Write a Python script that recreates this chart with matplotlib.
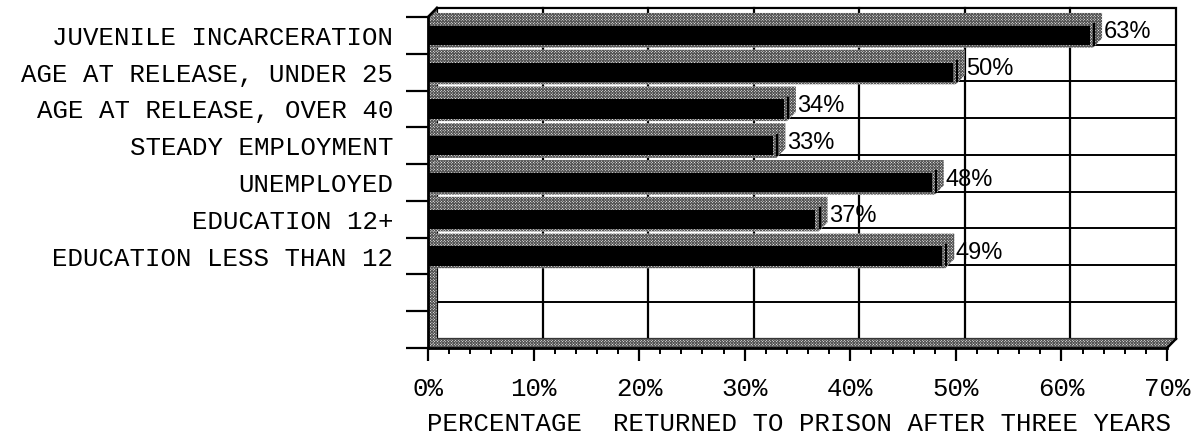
import matplotlib
matplotlib.use('Agg')
import matplotlib.pyplot as plt
from matplotlib.patches import Polygon, Rectangle

# data
categories = ['JUVENILE INCARCERATION',
              'AGE AT RELEASE, UNDER 25',
              'AGE AT RELEASE, OVER 40',
              'STEADY EMPLOYMENT',
              'UNEMPLOYED',
              'EDUCATION 12+',
              'EDUCATION LESS THAN 12']
values = [63, 50, 34, 33, 48, 37, 49]
empty_rows = 2
xticks = [0, 10, 20, 30, 40, 50, 60, 70]
xlabel = 'PERCENTAGE  RETURNED TO PRISON AFTER THREE YEARS'

plt.rcParams['hatch.color'] = '#555555'
plt.rcParams['hatch.linewidth'] = 0.7
HATCH = 'x' * 12
HC = '#555555'
MONO = 'Liberation Mono'
FS = 18.5

nrows = len(categories) + empty_rows
xmax = xticks[-1]
dx, dy = 0.85, 0.25   # depth offset (x in %, y in rows)

W, H = 1198, 437
fig = plt.figure(figsize=(W / 100, H / 100), dpi=100)
ax = fig.add_axes([428 / W, 1 - 348 / H, (1167 - 428) / W, (348 - 17) / H])
ax.set_xlim(0, xmax)
ax.set_ylim(nrows, 0)

# back wall
ax.add_patch(Rectangle((dx, -dy), xmax, nrows, facecolor='white', edgecolor='black',
                       lw=1.6, zorder=1, clip_on=False))
for x in xticks[1:-1]:
    ax.plot([x + dx, x + dx], [-dy, nrows - dy], color='black', lw=1.6, zorder=2, clip_on=False)
for k in range(1, nrows):
    ax.plot([dx, xmax + dx], [k - dy, k - dy], color='black', lw=1.4, zorder=2, clip_on=False)

# left wall and floor
ax.add_patch(Polygon([(0, 0), (dx, -dy), (dx, nrows - dy), (0, nrows)], closed=True,
                     facecolor='white', edgecolor=HC, hatch=HATCH, lw=0, zorder=3, clip_on=False))
ax.add_patch(Polygon([(0, nrows), (xmax, nrows), (xmax + dx, nrows - dy), (dx, nrows - dy)], closed=True,
                     facecolor='white', edgecolor=HC, hatch=HATCH, lw=0, zorder=3, clip_on=False))

# bars
for i, v in enumerate(values):
    c = i + 0.5
    t, b = c - 0.36, c + 0.33
    sil = [(0, b), (v, b), (v + dx, b - dy), (v + dx, t - dy), (dx, t - dy), (0, t)]
    ax.add_patch(Polygon(sil, closed=True, facecolor='white', edgecolor=HC,
                         hatch=HATCH, lw=0, zorder=4, clip_on=False))
    ax.add_patch(Rectangle((0, c - 0.26), v - 0.3, 0.52, facecolor='black', edgecolor='none',
                           zorder=5, clip_on=False))
    ax.plot([v + 0.1, v + 0.1], [c - 0.3, c + 0.25], color='black', lw=1.6, zorder=5)
    ax.text(v + 1.0, c - 0.08, f'{v}%', ha='left', va='center', fontsize=17,
            family='Liberation Sans', color='black', zorder=6)

# frame lines
ax.plot([0, dx], [0, -dy], color='black', lw=1.8, zorder=7, clip_on=False)
ax.plot([xmax, xmax + dx], [nrows, nrows - dy], color='black', lw=1.8, zorder=7, clip_on=False)

for s in ['top', 'right']:
    ax.spines[s].set_visible(False)
for s in ['left', 'bottom']:
    ax.spines[s].set_linewidth(2)
    ax.spines[s].set_zorder(8)

# y axis
ax.set_yticks([i + 0.5 for i in range(nrows)])
ax.set_yticklabels(categories + [''] * empty_rows, family=MONO, fontsize=FS)
ax.set_yticks(range(nrows + 1), minor=True)
ax.tick_params(axis='y', which='major', length=0, pad=25)
ax.tick_params(axis='y', which='minor', length=16, width=1.6, direction='out')

# x axis
ax.set_xticks(xticks)
ax.set_xticklabels([f'{x}%' for x in xticks], family=MONO, fontsize=FS)
ax.set_xticks(range(0, xmax + 1, 2), minor=True)
ax.tick_params(axis='x', which='major', length=9, width=1.6, pad=12)
ax.tick_params(axis='x', which='minor', length=4.5, width=1.4)

fig.text(799 / W, 1 - 424 / H, xlabel, ha='center', va='center', family=MONO, fontsize=FS)

fig.savefig('out.png', dpi=100)
